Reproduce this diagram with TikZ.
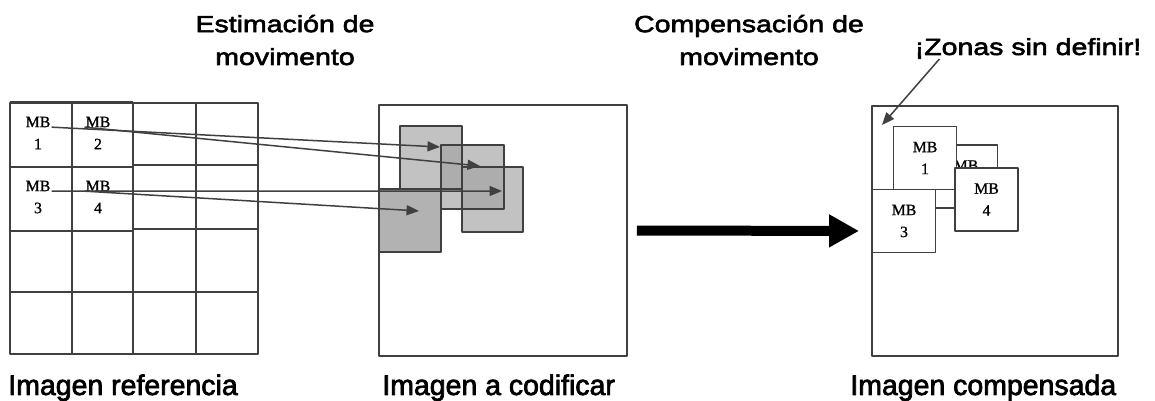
\documentclass[tikz,border=0pt]{standalone}
\usepackage{fontspec}
\setmainfont[FakeBold=2.5]{Liberation Sans}
\newfontfamily\ttlfont[FakeStretch=1.22, FakeBold=2.5]{Liberation Sans}
\newfontfamily\mbfont[FakeBold=1]{Liberation Serif}
\usetikzlibrary{arrows.meta}

\tikzset{
  imgframe/.style={draw=black!75, line width=0.04cm},
  cell/.style={draw=black!75, line width=0.035cm},
  blk/.style={draw=black!75, line width=0.035cm},
  mbtxt/.style={font=\mbfont\fontsize{9}{12.5}\selectfont, inner sep=0.5pt, align=center},
  cbox/.style={mbtxt, draw=black!75, line width=0.035cm, fill=white, minimum size=1.26cm, inner sep=0pt},
  ttl/.style={font=\ttlfont\fontsize{13.3}{18.7}\selectfont, align=center, inner sep=0pt},
  imgcap/.style={font=\fontsize{16.2}{19}\selectfont, anchor=base west, inner sep=0pt},
  mvarrow/.style={draw=black!75, line width=0.03cm, -{Triangle[length=0.25cm,width=0.2cm]}},
  bigarrow/.style={line width=0.2cm, -{Triangle[length=0.6cm,width=0.62cm]}},
}

\begin{document}
\begin{tikzpicture}[x=0.02cm, y=-0.02cm, line join=round]
    \useasboundingbox (0,0) rectangle (1155,401);

    % anchor=base sits on the last line
    \node[ttl, anchor=base] (estim) at (285,65) {Estimación de\\movimento};
    \node[ttl, anchor=base] (compens) at (749,65) {Compensación de\\movimento};

    % imagen de referencia, rejilla de macrobloques
    \draw[cell] (10,103) rectangle (258,354);
    \foreach \x in {72,133,196}
        \draw[cell] (\x,103) -- (\x,354);
    \foreach \y/\yy in {167/165, 231/229, 292/292} {
        \draw[cell] (10,\y) -- (133,\y);
        \draw[cell] (133,\yy) -- (258,\yy);
    }
    \draw[cell, line width=0.06cm] (10,103) -- (133,103);
    \foreach \i/\x/\y in {1/38/122, 2/98/122, 3/38/186, 4/98/186} {
        \node[mbtxt] (mb\i) at (\x,\y) {MB};
        \node[mbtxt] (nr\i) at (\x,\y+22) {\i};
    }

    % imagen a codificar
    \node[imgframe, minimum width=4.96cm, minimum height=5.02cm] (codif) at (503,230.5) {};
    \fill[black!24] (400,126) rectangle (462,189) (441,145) rectangle (504,209)
        (462,167) rectangle (523,232);
    \fill[black!30] (379,189) rectangle (441,252);
    \fill[black!32] (441,145) rectangle (462,189) (462,167) rectangle (504,209);
    \foreach \xa/\ya/\xb/\yb in {400/126/462/189, 441/145/504/209, 462/167/523/232, 379/189/441/252}
        \draw[blk] (\xa,\ya) rectangle (\xb,\yb);

    \coordinate (tA) at (440,147);
    \coordinate (tB) at (480,166);
    \coordinate (tC) at (502,191);
    \coordinate (tD) at (419,211);
    \foreach \i/\side/\t in {1/east/tA, 2/west/tB, 3/east/tC, 4/west/tD}
        \draw[mvarrow] (mb\i.base \side) -- (\t);

    % imagen compensada
    \node[imgframe, minimum width=4.92cm, minimum height=5cm] (comp) at (995,231) {};
    \foreach \i/\x/\y in {2/966/176.5, 1/925/158, 4/986.5/199.5, 3/904/221}
        \node[cbox] (c\i) at (\x,\y) {MB\\\i};

    \node[ttl, anchor=base] (zonas) at (1028,55) {¡Zonas sin definir!};
    \coordinate (hueco) at (882,125);
    \draw[mvarrow] ([xshift=0.5cm]zonas.south west) -- (hueco);

    \draw[bigarrow, shorten <=0.18cm, shorten >=0.24cm] (codif.east) -- (comp.west);

    \node[imgcap] (capref) at (8,395) {Imagen referencia};
    \node[imgcap] (capcod) at (382,395) {Imagen a codificar};
    \node[imgcap] (capcomp) at (850,395) {Imagen compensada};
\end{tikzpicture}
\end{document}
